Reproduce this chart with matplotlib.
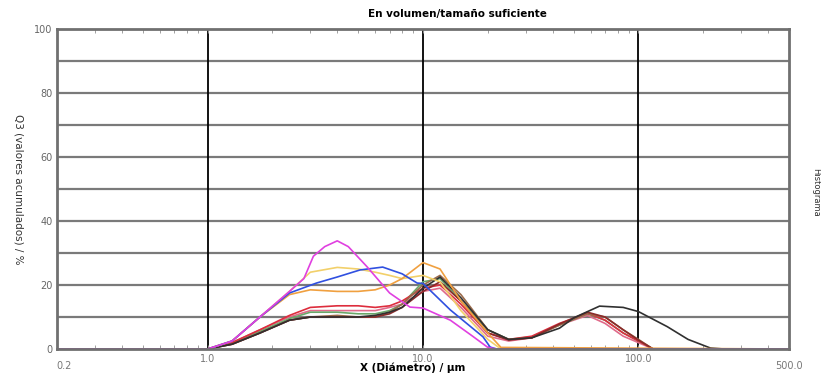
import numpy as np
import matplotlib.pyplot as plt
from matplotlib.ticker import FixedLocator, NullFormatter

# curve data (x in um, y in %)
x_lo = [0.2, 0.5, 1.0, 1.3, 1.75, 2.4, 3.0, 4.0, 5.0, 6.0, 7.0, 8.0, 10.0, 12.0,
        15.0, 20.0, 25.0, 32.0, 43.0, 58.0, 70.0, 85.0, 100.0, 117.0, 500.0]
red     = [0, 0, 0, 2.0, 6.0, 10.5, 13.0, 13.5, 13.5, 13.0, 13.5, 15.0, 19.0, 20.0,
           14.0, 5.0, 3.0, 4.0, 8.0, 11.2, 9.0, 5.0, 2.5, 0, 0]
green   = [0, 0, 0, 2.0, 5.5, 9.5, 11.5, 11.5, 11.0, 11.0, 12.0, 14.0, 21.0, 22.0,
           15.0, 6.0, 3.0, 3.8, 7.5, 11.0, 9.0, 5.0, 2.5, 0, 0]
brown   = [0, 0, 0, 1.5, 5.0, 9.0, 10.0, 10.5, 10.0, 10.0, 11.5, 14.0, 20.0, 23.0,
           17.0, 6.0, 3.0, 3.5, 7.5, 11.0, 10.0, 6.0, 3.0, 0, 0]
darkred = [0, 0, 0, 1.5, 5.0, 9.0, 10.0, 10.0, 10.0, 10.0, 11.0, 13.0, 18.0, 21.0,
           15.0, 5.0, 2.8, 3.5, 7.8, 11.5, 10.0, 6.0, 2.8, 0, 0]
pink    = [0, 0, 0, 2.0, 6.0, 10.0, 12.0, 12.0, 12.0, 12.0, 13.0, 14.0, 18.0, 19.0,
           13.0, 4.0, 2.5, 3.5, 7.5, 10.5, 8.0, 4.0, 2.0, 0, 0]

x_black = [0.2, 0.5, 1.0, 1.3, 1.75, 2.4, 3.0, 4.0, 5.0, 6.0, 7.0, 8.0, 10.0, 12.0,
           15.0, 20.0, 25.0, 32.0, 43.0, 50.0, 66.0, 85.0, 100.0, 136.0, 170.0,
           216.0, 250.0, 500.0]
black = [0, 0, 0, 1.5, 5.0, 9.0, 10.0, 10.0, 10.0, 10.5, 11.5, 13.0, 19.0, 22.5,
         16.0, 6.0, 3.0, 3.5, 6.5, 9.7, 13.4, 13.0, 11.7, 7.0, 3.0, 0.3, 0, 0]

x_hi = [0.2, 0.5, 1.0, 1.3, 1.75, 2.4, 3.0, 4.0, 5.0, 6.0, 7.0, 8.0, 10.0, 12.0,
        15.0, 20.0, 23.0, 500.0]
yellow = [0, 0, 0, 2.5, 10.0, 18.0, 24.0, 25.5, 25.0, 24.0, 23.0, 22.0, 23.0, 21.0,
          12.0, 3.0, 0, 0]
orange = [0, 0, 0, 2.5, 10.0, 17.0, 18.5, 18.0, 18.0, 18.5, 20.0, 22.0, 27.0, 25.0,
          15.0, 5.0, 0.5, 0]

x_mag = [0.2, 0.5, 1.0, 1.3, 1.75, 2.4, 2.8, 3.1, 3.5, 4.0, 4.5, 5.5, 7.0, 8.7,
         10.0, 13.4, 17.0, 20.0, 22.0, 500.0]
magenta = [0, 0, 0, 2.5, 10.0, 18.0, 22.0, 29.0, 32.0, 33.8, 32.0, 25.7, 17.5, 13.1,
           12.8, 9.0, 4.0, 0.5, 0, 0]

x_blue = [0.2, 0.5, 1.0, 1.3, 1.75, 2.4, 3.2, 4.0, 5.1, 6.5, 8.0, 9.4, 10.0, 13.4,
          19.0, 20.5, 22.0, 500.0]
blue = [0, 0, 0, 2.5, 10.0, 17.5, 20.6, 22.5, 24.7, 25.6, 23.5, 20.6, 20.5, 12.2,
        3.8, 0.6, 0, 0]

xtick_vals = [0.2, 1.0, 10.0, 100.0, 500.0]
ytick_vals = [0, 20, 40, 60, 80, 100]

fig = plt.figure(figsize=(8.21, 3.78), dpi=100)
ax = fig.add_axes([0.0694, 0.0767, 0.8916, 0.8466])
ax.set_xscale('log')
ax.set_xlim(0.2, 500)
ax.set_ylim(0, 100)

# grid
for yv in range(10, 100, 10):
    ax.axhline(yv, color='#7a7a7a', lw=1.6, zorder=1)
for xv in [1, 10, 100]:
    ax.axvline(xv, color='black', lw=1.3, zorder=1)

ax.plot(x_lo, pink, color='#e06a8a', lw=1.2)
ax.plot(x_lo, green, color='#6aa86a', lw=1.2)
ax.plot(x_lo, red, color='#dd2d3d', lw=1.2)
ax.plot(x_lo, brown, color='#9b6b4b', lw=1.2)
ax.plot(x_lo, darkred, color='#8a2a2a', lw=1.2)
ax.plot(x_black, black, color='#303030', lw=1.2)
ax.plot(x_hi, yellow, color='#f2d06a', lw=1.2)
ax.plot(x_hi, orange, color='#f0a040', lw=1.2)
ax.plot(x_blue, blue, color='#3050e0', lw=1.2)
ax.plot(x_mag, magenta, color='#e040e0', lw=1.2)

for s in ax.spines.values():
    s.set_color('#707070')
    s.set_linewidth(2)

# ticks
minors = [m * d for d in [0.1, 1, 10, 100] for m in range(2, 10)]
minors = [v for v in minors if 0.2 < v < 500]
ax.xaxis.set_major_locator(FixedLocator([1, 10, 100]))
ax.xaxis.set_minor_locator(FixedLocator(minors))
ax.xaxis.set_major_formatter(NullFormatter())
ax.xaxis.set_minor_formatter(NullFormatter())
ax.tick_params(axis='x', which='both', direction='in', top=True, bottom=True,
               length=3, color='#909090')
ax.set_yticks(ytick_vals)
ax.set_yticklabels([str(v) for v in ytick_vals], fontsize=7, color='#666666')
ax.tick_params(axis='y', length=0, pad=3)

for xv in xtick_vals:
    lab = '%.1f' % xv
    if xv == 0.2:
        ax.text(0.215, -3.8, lab, ha='center', va='top', fontsize=7, color='#777777')
    elif xv == 500.0:
        ax.text(xv, -3.8, lab, ha='center', va='top', fontsize=7, color='#777777')
    else:
        ax.text(xv, -1.5, lab, ha='center', va='top', fontsize=7, color='#777777')

fig.text(0.557, 0.962, 'En volumen/tamaño suficiente', ha='center', va='center',
         fontsize=7.5, fontweight='bold')
fig.text(0.503, 0.028, 'X (Diámetro) / µm', ha='center', va='center',
         fontsize=7.5, fontweight='bold')
fig.text(0.022, 0.5, 'Q3 (valores acumulados) / %', ha='center', va='center',
         rotation=-90, fontsize=7.5, color='#333333')
fig.text(0.993, 0.49, 'Histograma', ha='center', va='center',
         rotation=-90, fontsize=6, color='#333333')

fig.savefig('out.png', dpi=100)
